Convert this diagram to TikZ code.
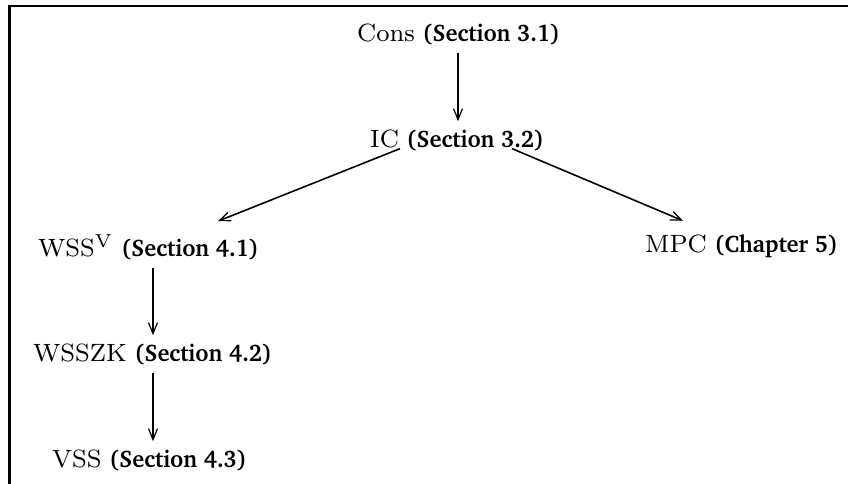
\documentclass[tikz,border=0pt]{standalone}
\usepackage[T1,TU]{fontenc}
\usetikzlibrary{arrows.meta}
\newcommand\chbig[1]{\scalebox{0.95}[1]{\fontencoding{T1}\fontfamily{bch}\fontseries{b}\fontsize{24}{29}\selectfont #1}}
\newcommand\lmbig[1]{\scalebox{3.125}{\fontsize{8}{9.6}\selectfont #1}}
\newcommand\lbltext[2]{\lmbig{#1}\hspace{8pt}\chbig{#2}}
\tikzset{
  lbl/.style={anchor=base west, inner sep=0pt},
  arr/.style={line width=1.6pt, -{Straight Barb[length=11pt,width=9pt,line width=1.2pt]}},
  frame/.style={line width=2.6pt}
}
\begin{document}
\begin{tikzpicture}[x=1pt,y=-1pt]
\useasboundingbox (0,0) rectangle (848,484);
\coordinate (tr) at (848,6);
\coordinate (tl) at (9.5,6);
\coordinate (bl) at (9.5,484);
\draw[frame] (tr) -- (tl) -- (bl);
\node[lbl] (cons) at (357,42) {\lbltext{Cons}{(Section 3.1)}};
\node[lbl] (ic) at (370,147) {\lbltext{IC}{(Section 3.2)}};
\node[lbl] (wss) at (38,256) {\lbltext{WSS$^{\mathrm{V}}$}{(Section 4.1)}};
\node[lbl] (mpc) at (645,252) {\lbltext{MPC}{(Chapter 5)}};
\node[lbl] (wsszk) at (33,361) {\lbltext{WSSZK}{(Section 4.2)}};
\node[lbl] (vss) at (52,467) {\lbltext{VSS}{(Section 4.3)}};
\coordinate (ca) at ([xshift=88pt]ic.south west);
\coordinate (cb) at ([xshift=115pt]wss.south west);
\draw[arr] ([yshift=-7pt]ca |- cons.south) -- ([yshift=8pt]ca |- ic.north);
\draw[arr] ([xshift=30pt,yshift=2pt]ic.south west) -- ([xshift=180pt,yshift=13pt]wss.north west);
\draw[arr] ([xshift=142pt,yshift=2pt]ic.south west) -- ([xshift=38pt,yshift=13pt]mpc.north west);
\draw[arr] ([yshift=-8pt]cb |- wss.south) -- ([yshift=8pt]cb |- wsszk.north);
\draw[arr] ([yshift=-8pt]cb |- wsszk.south) -- ([yshift=8pt]cb |- vss.north);
\end{tikzpicture}
\end{document}
